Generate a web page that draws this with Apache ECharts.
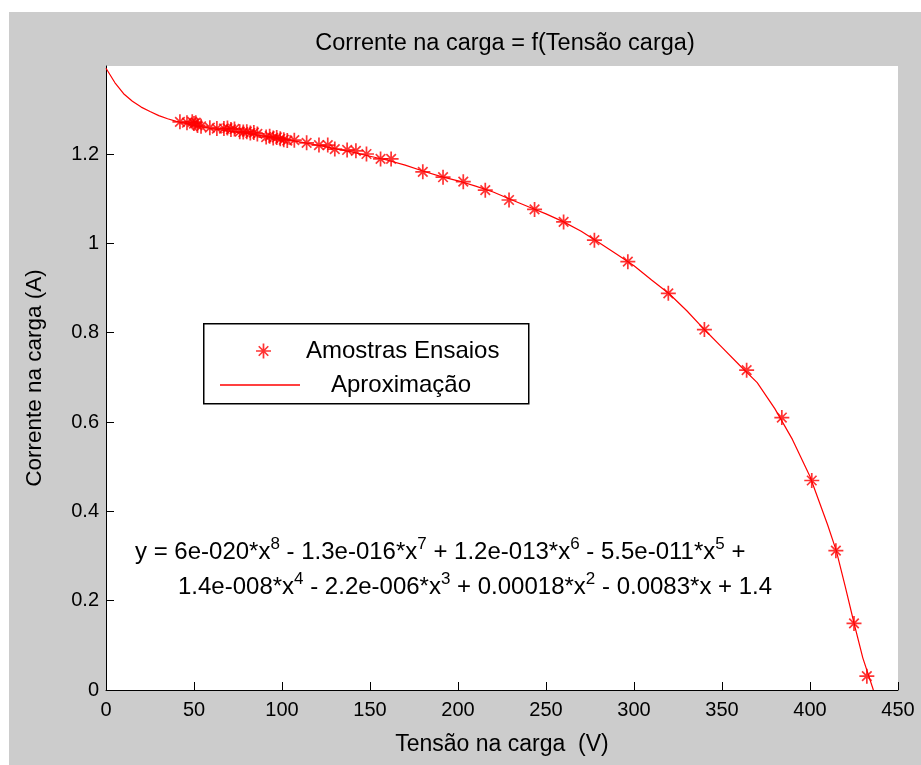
<!DOCTYPE html>
<html>
<head>
<meta charset="utf-8">
<script src="https://cdn.jsdelivr.net/npm/echarts@6/dist/echarts.min.js"></script>
<style>html,body{margin:0;padding:0;background:#fff}#c{width:921px;height:765px}</style>
</head>
<body>
<div id="c"></div>
<script>
// ---- Data ----
const titleText = 'Corrente na carga = f(Tensão carga)';
const xName = 'Tensão na carga  (V)';
const yName = 'Corrente na carga (A)';
const sampleName = 'Amostras Ensaios';
const fitName = 'Aproximação';

// Measured samples: voltage (V) and current (A)
const sampleV = [42, 46, 49, 50, 51, 52, 54, 59, 63, 67, 69, 71, 73, 76, 78, 80, 82, 84, 86, 91, 93, 95, 97, 99, 101, 103, 107, 114, 121, 126, 130, 137, 142, 148, 156, 162, 180, 191.5, 203, 215.5, 229, 243.5, 260, 277.5, 296.5, 319.5, 340, 364, 384, 401, 414.7, 425, 432.3];
const sampleI = [1.272, 1.270, 1.272, 1.268, 1.270, 1.264, 1.262, 1.259, 1.257, 1.257, 1.258, 1.255, 1.256, 1.250, 1.249, 1.250, 1.247, 1.248, 1.245, 1.238, 1.240, 1.236, 1.237, 1.234, 1.232, 1.230, 1.231, 1.225, 1.220, 1.220, 1.211, 1.209, 1.207, 1.200, 1.189, 1.189, 1.160, 1.148, 1.138, 1.119, 1.097, 1.076, 1.048, 1.007, 0.959, 0.888, 0.807, 0.716, 0.610, 0.469, 0.312, 0.149, 0.031];

// Fitted curve
const fitV = [0, 5, 10, 15, 20, 25, 30, 35, 40, 50, 60, 70, 80, 90, 100, 110, 120, 130, 140, 150, 160, 170, 180, 190, 200, 210, 220, 230, 240, 250, 260, 270, 280, 290, 300, 310, 320, 330, 340, 350, 360, 370, 380, 390, 400, 410, 415, 420, 425, 430, 436];
const fitI = [1.392, 1.360, 1.335, 1.318, 1.305, 1.295, 1.286, 1.279, 1.273, 1.264, 1.257, 1.251, 1.246, 1.240, 1.234, 1.227, 1.220, 1.212, 1.204, 1.195, 1.186, 1.175, 1.162, 1.150, 1.140, 1.128, 1.115, 1.098, 1.082, 1.066, 1.048, 1.027, 1.002, 0.976, 0.950, 0.918, 0.887, 0.849, 0.807, 0.767, 0.727, 0.688, 0.630, 0.561, 0.478, 0.370, 0.311, 0.232, 0.150, 0.072, 0.0];

// Equation text: [base, superscript]
const eqLine1 = [['y = 6e-020*x', '8'], [' - 1.3e-016*x', '7'], [' + 1.2e-013*x', '6'], [' - 5.5e-011*x', '5'], [' +', '']];
const eqLine2 = [['1.4e-008*x', '4'], [' - 2.2e-006*x', '3'], [' + 0.00018*x', '2'], [' - 0.0083*x + 1.4', '']];

// ---- Chart ----
const FONT = '"Liberation Sans", Arial, sans-serif';
const STAR = 'path://M6.2,0H7.8V14H6.2Z M0,6.2H14V7.8H0Z M2,3.1L3.1,2L12,10.9L10.9,12Z M10.9,2L12,3.1L3.1,12L2,10.9Z';

function richLine(parts) {
  return parts.map(p => '{b|' + p[0] + '}' + (p[1] ? '{s|' + p[1] + '}' : '')).join('');
}
const eqRich = {
  b: { fontSize: 24, fontFamily: FONT, color: '#000', lineHeight: 28, verticalAlign: 'bottom' },
  s: { fontSize: 17, fontFamily: FONT, color: '#000', lineHeight: 28, verticalAlign: 'top', padding: [0, 0, 9, 0] }
};

const chart = echarts.init(document.getElementById('c'), null, { renderer: 'canvas' });
chart.setOption({
  animation: false,
  backgroundColor: '#cccccc',
  title: {
    text: titleText, left: 500, top: 27, textAlign: 'center',
    textStyle: { fontFamily: FONT, fontSize: 23.5, fontWeight: 'normal', color: '#000' }
  },
  grid: { left: 106, right: 23, top: 66, bottom: 75, show: true, backgroundColor: '#fff', borderWidth: 0 },
  xAxis: {
    type: 'value', min: 0, max: 450, interval: 50,
    name: xName, nameLocation: 'middle', nameGap: 43,
    nameTextStyle: { fontFamily: FONT, fontSize: 23, color: '#000' },
    axisLine: { show: true, onZero: false, lineStyle: { color: '#000', width: 1 } },
    axisTick: { show: true, inside: true, length: 8, lineStyle: { color: '#000' } },
    axisLabel: { fontFamily: FONT, fontSize: 20, color: '#000', margin: 10 },
    splitLine: { show: false }
  },
  yAxis: {
    type: 'value', min: 0, max: 1.397, interval: 0.2,
    name: yName, nameLocation: 'middle', nameGap: 60, nameRotate: 90,
    nameTextStyle: { fontFamily: FONT, fontSize: 22.5, color: '#000' },
    axisLine: { show: true, onZero: false, lineStyle: { color: '#000', width: 1 } },
    axisTick: { show: true, inside: true, length: 8, lineStyle: { color: '#000' } },
    axisLabel: { fontFamily: FONT, fontSize: 20, color: '#000', margin: 7, showMaxLabel: false,
      formatter: v => (Math.round(v * 10) / 10).toString() },
    splitLine: { show: false }
  },
  legend: [
    {
      data: [{ name: sampleName, icon: STAR }], left: 251, top: 334, itemWidth: 15, itemHeight: 15,
      textStyle: { fontFamily: FONT, fontSize: 24, color: '#000', padding: [0, 0, 0, 30] }, z: 6
    },
    {
      data: [{ name: fitName, icon: 'rect' }], left: 215, top: 368, itemWidth: 80, itemHeight: 1.5,
      textStyle: { fontFamily: FONT, fontSize: 24, color: '#000', padding: [0, 0, 0, 26] }, z: 6
    }
  ],
  graphic: [
    { type: 'rect', left: 0, top: 0, shape: { width: 921, height: 12 }, style: { fill: '#fff' }, z: 10 },
    { type: 'rect', left: 0, top: 0, shape: { width: 9, height: 765 }, style: { fill: '#fff' }, z: 10 },
    { type: 'rect', left: 203, top: 323, shape: { width: 325, height: 80 }, style: { fill: '#fff', stroke: '#000', lineWidth: 1.5 }, z: 5 },
    { type: 'text', left: 135, top: 536, z: 5, style: { text: richLine(eqLine1), rich: eqRich } },
    { type: 'text', left: 178, top: 571, z: 5, style: { text: richLine(eqLine2), rich: eqRich } }
  ],
  series: [
    {
      name: sampleName, type: 'scatter', symbol: STAR, symbolSize: 15,
      itemStyle: { color: '#ff0000' },
      data: sampleV.map((v, i) => [v, sampleI[i]]), z: 3
    },
    {
      name: fitName, type: 'line', showSymbol: false, symbol: 'none',
      lineStyle: { color: '#ff0000', width: 1.2 }, itemStyle: { color: '#ff0000' },
      data: fitV.map((v, i) => [v, fitI[i]]), z: 2
    }
  ]
});
</script>
</body>
</html>
